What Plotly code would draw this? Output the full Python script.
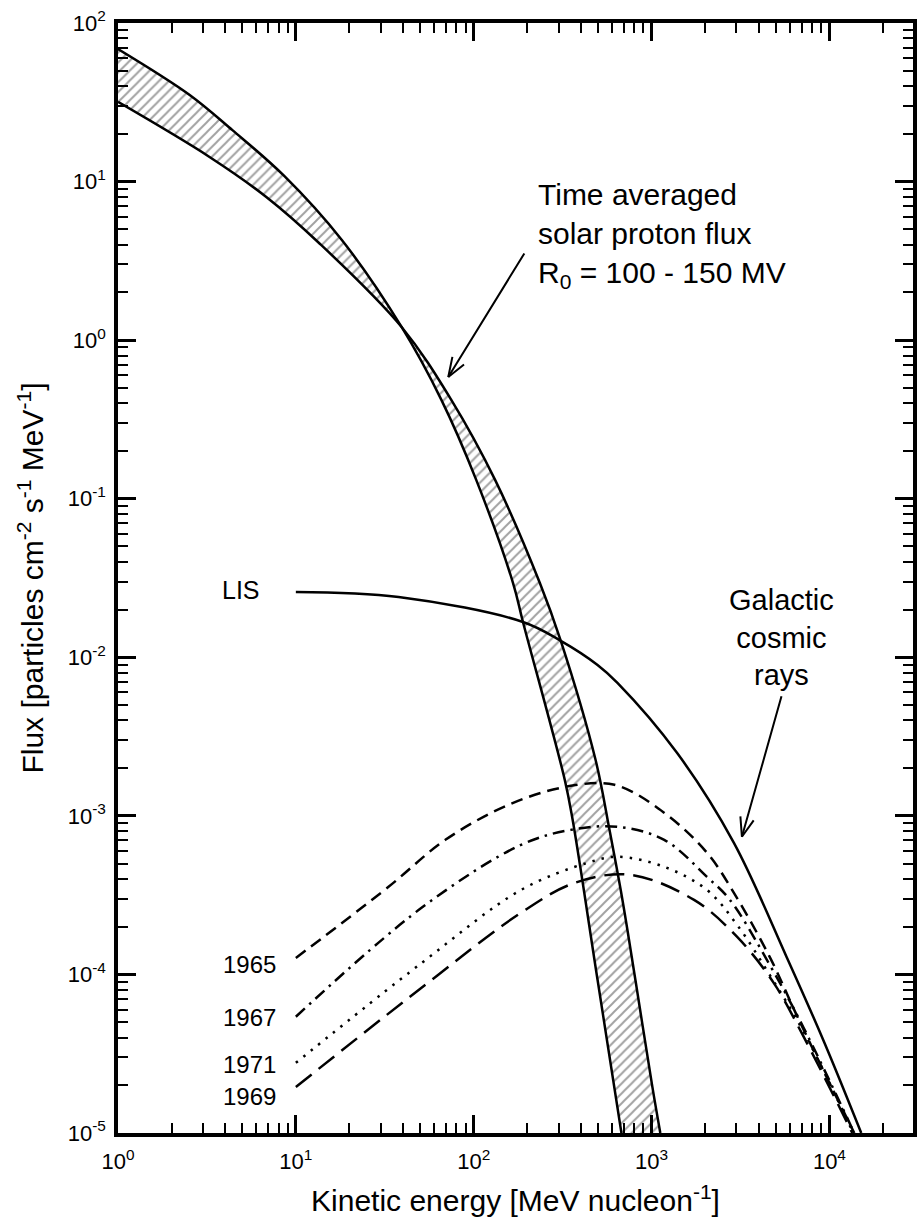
import math
import plotly.graph_objects as go

# Solar proton spectra (exponential in rigidity), two characteristic rigidities
solar_r100_energy = [1.0, 2.53, 4.40, 8.60, 18.14, 39.3, 65.8, 103.3, 166.4, 189.2, 325, 360, 497, 677]
solar_r100_flux = [68.6, 35.2, 21.1, 10.85, 4.28, 1.211, 0.420, 0.1314, 0.0294, 0.0167, 1.69e-3, 9.44e-4, 9.25e-5, 1.0e-5]

solar_r150_energy = [1.0, 3.27, 6.82, 13.5, 39.3, 74.8, 131.9, 235.5, 308.8, 484.6, 580, 686, 811, 1010, 1120]
solar_r150_flux = [31.8, 14.3, 8.0, 4.10, 1.211, 0.420, 0.1314, 0.0294, 0.0127, 2.25e-3, 8.16e-4, 2.95e-4, 9.25e-5, 1.96e-5, 1.0e-5]

# Local interstellar spectrum of galactic cosmic rays
lis_energy = [10.0, 37.8, 189.2, 308.8, 497, 643, 1393, 2904, 5745, 9375, 15100]
lis_flux = [0.0258, 0.0240, 0.0167, 0.0127, 8.95e-3, 6.9e-3, 2.49e-3, 6.76e-4, 1.29e-4, 3.71e-5, 1.0e-5]

# Modulated spectra at 1 AU for individual years
gcr_1965_energy = [10.0, 33.2, 69.3, 156, 325, 619, 1178, 2050, 2904, 4615, 6535, 9500, 13800]
gcr_1965_flux = [1.27e-4, 3.57e-4, 7.06e-4, 1.17e-3, 1.52e-3, 1.57e-3, 1.045e-3, 5.85e-4, 3.27e-4, 1.29e-4, 5.56e-5, 2.33e-5, 1.0e-5]

gcr_1967_energy = [10.0, 50.9, 184.5, 351, 643, 1178, 2050, 2760, 4615, 7160, 13800]
gcr_1967_flux = [5.41e-5, 2.63e-4, 6.56e-4, 8.16e-4, 8.53e-4, 7.06e-4, 4.12e-4, 2.95e-4, 1.15e-4, 4.61e-5, 1.0e-5]

gcr_1971_energy = [10.0, 50.9, 184.5, 437, 643, 1178, 2050, 3020, 4615, 7160, 13620]
gcr_1971_flux = [2.77e-5, 1.18e-4, 3.41e-4, 5.06e-4, 5.52e-4, 4.77e-4, 3.41e-4, 2.06e-4, 9.93e-5, 4.35e-5, 1.0e-5]

gcr_1969_energy = [10.0, 50.9, 184.5, 370, 760, 1734, 3020, 4860, 7160, 13450]
gcr_1969_flux = [1.95e-5, 8.24e-5, 2.45e-4, 3.78e-4, 4.25e-4, 2.95e-4, 1.73e-4, 8.85e-5, 4.05e-5, 1.0e-5]

year_labels = ["1965", "1967", "1971", "1969"]

x_tick_vals = [1, 10, 100, 1000, 10000]
x_tick_text = ["10<sup>0</sup>", "10<sup>1</sup>", "10<sup>2</sup>", "10<sup>3</sup>", "10<sup>4</sup>"]
y_tick_vals = [1e-5, 1e-4, 1e-3, 1e-2, 1e-1, 1, 10, 100]
y_tick_text = ["10<sup>-5</sup>", "10<sup>-4</sup>", "10<sup>-3</sup>", "10<sup>-2</sup>",
               "10<sup>-1</sup>", "10<sup>0</sup>", "10<sup>1</sup>", "10<sup>2</sup>"]

FONT = "Liberation Sans, Arial, Helvetica, sans-serif"
LW = 2.5
SMOOTH = 1.0

fig = go.Figure()

# Hatched band between the two solar proton spectra
fig.add_trace(go.Scatter(
    x=solar_r100_energy, y=solar_r100_flux, mode="lines",
    line=dict(color="black", width=LW, shape="spline", smoothing=SMOOTH),
    showlegend=False, hoverinfo="skip"))
fig.add_trace(go.Scatter(
    x=solar_r150_energy, y=solar_r150_flux, mode="lines",
    line=dict(color="black", width=LW, shape="spline", smoothing=SMOOTH),
    fill="tonexty", fillcolor="rgba(0,0,0,0)",
    fillpattern=dict(shape="/", size=7, solidity=0.28, fgcolor="#444444", bgcolor="rgba(255,255,255,0)"),
    showlegend=False, hoverinfo="skip"))

fig.add_trace(go.Scatter(
    x=lis_energy, y=lis_flux, mode="lines",
    line=dict(color="black", width=LW, shape="spline", smoothing=SMOOTH),
    showlegend=False, hoverinfo="skip"))

dash_styles = ["12px,7px", "12px,6px,2.5px,6px", "2.5px,7px", "20px,9px"]
series = [(gcr_1965_energy, gcr_1965_flux), (gcr_1967_energy, gcr_1967_flux),
          (gcr_1971_energy, gcr_1971_flux), (gcr_1969_energy, gcr_1969_flux)]
for (ex, fx), dash, label in zip(series, dash_styles, year_labels):
    fig.add_trace(go.Scatter(
        x=ex, y=fx, mode="lines", name=label,
        line=dict(color="black", width=LW, dash=dash, shape="spline", smoothing=SMOOTH),
        showlegend=False, hoverinfo="skip"))

# Year labels placed left of each modulated curve
year_label_y = [-3.939, -4.274, -4.570, -4.772]
for label, ly in zip(year_labels, year_label_y):
    fig.add_annotation(x=0.90, y=ly, text=label, showarrow=False, xanchor="right",
                       yanchor="middle", font=dict(family=FONT, size=24, color="black"))

fig.add_annotation(x=0.694, y=-1.575, text="LIS", showarrow=False, xanchor="center",
                   yanchor="middle", font=dict(family=FONT, size=25, color="black"))

fig.add_annotation(x=2.35, y=0.657,
                   text="Time averaged<br>solar proton flux<br>R<sub>0</sub> = 100 - 150 MV",
                   showarrow=False, xanchor="left", yanchor="middle", align="left",
                   font=dict(family=FONT, size=30, color="black"))
fig.add_annotation(x=3.731, y=-1.878, text="Galactic<br>cosmic<br>rays",
                   showarrow=False, xanchor="center", yanchor="middle", align="center",
                   font=dict(family=FONT, size=29, color="black"))


def open_arrow(tip_x, tip_y, dx, dy, head_len=22, head_angle=20):
    """Thin line arrow with an open V head; (dx, dy) is the tail offset in pixels."""
    fig.add_annotation(x=tip_x, y=tip_y, text="", showarrow=True, ax=dx, ay=dy,
                       arrowhead=0, arrowwidth=2, arrowcolor="black")
    norm = math.hypot(dx, dy)
    ux, uy = dx / norm, dy / norm
    for sgn in (1, -1):
        a = math.radians(head_angle) * sgn
        hx = (ux * math.cos(a) - uy * math.sin(a)) * head_len
        hy = (ux * math.sin(a) + uy * math.cos(a)) * head_len
        fig.add_annotation(x=tip_x, y=tip_y, text="", showarrow=True, ax=hx, ay=hy,
                           arrowhead=0, arrowwidth=2, arrowcolor="black")


open_arrow(1.857, -0.232, 77, -125)
open_arrow(3.508, -3.132, 40, -142)

x_minor = [m * 10 ** d for d in range(0, 5) for m in range(2, 10)]
y_minor = [m * 10.0 ** d for d in range(-5, 2) for m in range(2, 10)]

axis_common = dict(
    showline=True, linewidth=3.5, linecolor="black", mirror="ticks",
    ticks="inside", ticklen=18, tickwidth=3, tickcolor="black",
    showgrid=False, zeroline=False,
    tickfont=dict(family=FONT, size=22, color="black"),
)

fig.update_xaxes(
    type="log", range=[0, 4.47], tickvals=x_tick_vals, ticktext=x_tick_text,
    minor=dict(ticks="inside", ticklen=10, tickwidth=2, tickcolor="black", tickvals=x_minor, showgrid=False),
    title=dict(text="Kinetic energy [MeV nucleon<sup>-1</sup>]",
               font=dict(family=FONT, size=30, color="black"), standoff=18),
    ticklabelstandoff=6,
    **axis_common)
fig.update_yaxes(
    type="log", range=[-5, 2], tickvals=y_tick_vals, ticktext=y_tick_text,
    minor=dict(ticks="inside", ticklen=10, tickwidth=2, tickcolor="black", tickvals=y_minor, showgrid=False),
    title=dict(text="Flux [particles cm<sup>-2</sup> s<sup>-1</sup> MeV<sup>-1</sup>]",
               font=dict(family=FONT, size=30, color="black"), standoff=16),
    ticklabelstandoff=4,
    **axis_common)

fig.update_layout(
    width=923, height=1225,
    margin=dict(l=118, r=6, t=23, b=92),
    paper_bgcolor="white", plot_bgcolor="white",
    font=dict(family=FONT, color="black"),
)

fig.write_html("out.html")
